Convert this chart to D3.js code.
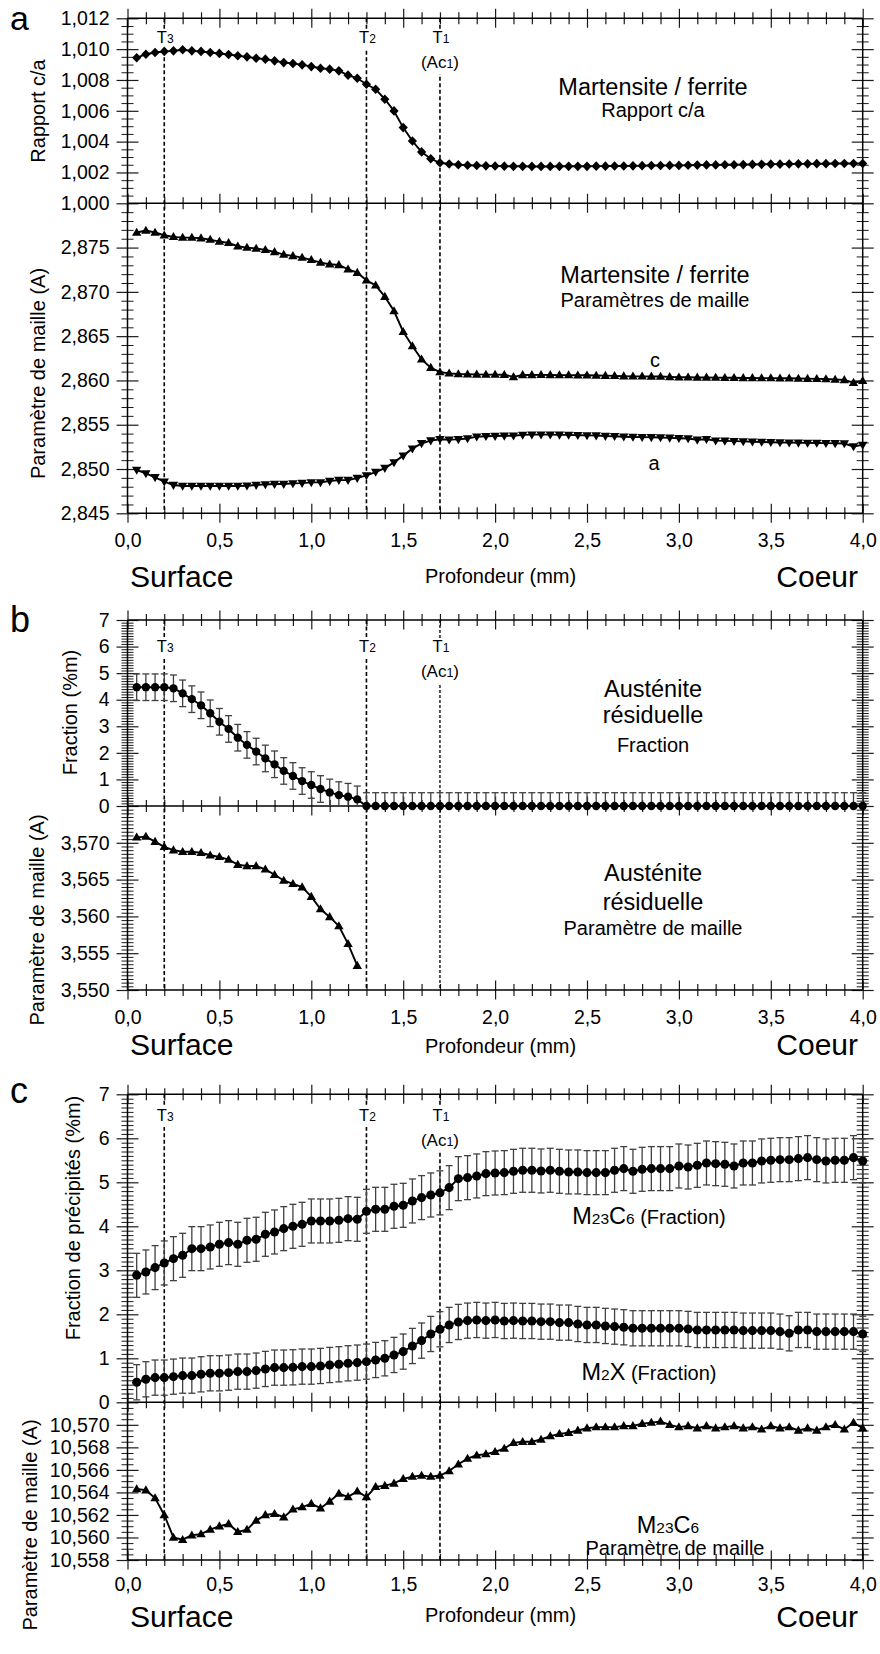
<!DOCTYPE html>
<html><head><meta charset="utf-8">
<script src="https://cdn.jsdelivr.net/npm/d3@7"></script>
<style>
body{margin:0;background:#fff;}
svg{display:block;font-family:"Liberation Sans",Arial,Helvetica,sans-serif;}
</style></head><body>
<svg id="chart" width="880" height="1654"></svg>
<script>
// ---------------- DATA ----------------
const depth = [0.05,0.10,0.15,0.20,0.25,0.30,0.35,0.40,0.45,0.50,
0.55,0.60,0.65,0.70,0.75,0.80,0.85,0.90,0.95,1.00,
1.05,1.10,1.15,1.20,1.25,1.30,1.35,1.40,1.45,1.50,
1.55,1.60,1.65,1.70,1.75,1.80,1.85,1.90,1.95,2.00,
2.05,2.10,2.15,2.20,2.25,2.30,2.35,2.40,2.45,2.50,
2.55,2.60,2.65,2.70,2.75,2.80,2.85,2.90,2.95,3.00,
3.05,3.10,3.15,3.20,3.25,3.30,3.35,3.40,3.45,3.50,
3.55,3.60,3.65,3.70,3.75,3.80,3.85,3.90,3.95,4.00];

const depthAust = [0.05,0.10,0.15,0.20,0.25,0.30,0.35,0.40,0.45,0.50,
0.55,0.60,0.65,0.70,0.75,0.80,0.85,0.90,0.95,1.00,1.05,1.10,1.15,1.20,1.25];

const caRatio = [1.00944,1.00967,1.00978,1.00985,1.00989,1.00996,1.00989,1.00985,1.00978,1.00972,
1.00965,1.00957,1.00950,1.00941,1.00935,1.00924,1.00913,1.00907,1.00898,1.00887,
1.00876,1.00870,1.00859,1.00831,1.00811,1.00772,1.00740,1.00675,1.00599,1.00491,
1.00404,1.00333,1.00289,1.00263,1.00255,1.00250,1.00247,1.00245,1.00243,1.00242,
1.00241,1.00240,1.00240,1.00239,1.00239,1.00239,1.00240,1.00240,1.00240,1.00240,
1.00241,1.00241,1.00242,1.00242,1.00243,1.00244,1.00245,1.00245,1.00246,1.00246,
1.00247,1.00248,1.00249,1.00249,1.00250,1.00250,1.00251,1.00252,1.00253,1.00254,
1.00254,1.00255,1.00256,1.00256,1.00257,1.00257,1.00258,1.00258,1.00258,1.00258];

const latticeC = [2.87670,2.87692,2.87670,2.87639,2.87621,2.87613,2.87613,2.87606,2.87590,2.87568,
2.87553,2.87515,2.87500,2.87489,2.87474,2.87451,2.87421,2.87406,2.87387,2.87361,
2.87330,2.87312,2.87304,2.87255,2.87217,2.87131,2.87074,2.86946,2.86784,2.86550,
2.86388,2.86238,2.86144,2.86095,2.86080,2.86072,2.86070,2.86068,2.86066,2.86066,
2.86064,2.86040,2.86062,2.86062,2.86063,2.86062,2.86060,2.86060,2.86058,2.86058,
2.86056,2.86054,2.86052,2.86048,2.86046,2.86046,2.86045,2.86044,2.86040,2.86036,
2.86036,2.86034,2.86034,2.86032,2.86030,2.86030,2.86028,2.86028,2.86026,2.86026,
2.86024,2.86024,2.86022,2.86020,2.86018,2.86016,2.86010,2.86006,2.85975,2.85995];

const latticeA = [2.84989,2.84951,2.84906,2.84857,2.84819,2.84808,2.84808,2.84808,2.84808,2.84808,
2.84808,2.84808,2.84811,2.84819,2.84826,2.84830,2.84830,2.84838,2.84841,2.84849,
2.84849,2.84864,2.84875,2.84875,2.84898,2.84928,2.84966,2.85011,2.85075,2.85151,
2.85230,2.85290,2.85321,2.85336,2.85332,2.85335,2.85345,2.85365,2.85370,2.85372,
2.85375,2.85376,2.85385,2.85388,2.85388,2.85388,2.85386,2.85385,2.85382,2.85380,
2.85378,2.85372,2.85370,2.85365,2.85362,2.85360,2.85358,2.85356,2.85352,2.85348,
2.85345,2.85330,2.85336,2.85320,2.85318,2.85315,2.85312,2.85308,2.85305,2.85302,
2.85300,2.85298,2.85296,2.85295,2.85294,2.85292,2.85290,2.85288,2.85255,2.85272];

const austFrac = [4.47,4.47,4.47,4.47,4.43,4.24,4.02,3.79,3.49,3.17,
2.90,2.57,2.30,2.05,1.79,1.57,1.32,1.13,0.94,0.79,
0.64,0.51,0.41,0.35,0.25,0,0,0,0,0,
0,0,0,0,0,0,0,0,0,0,
0,0,0,0,0,0,0,0,0,0,
0,0,0,0,0,0,0,0,0,0,
0,0,0,0,0,0,0,0,0,0,
0,0,0,0,0,0,0,0,0,0];
const austFracErr = 0.5;

const austParam = [3.57074,3.57084,3.57015,3.56946,3.56900,3.56878,3.56878,3.56864,3.56831,3.56809,
3.56772,3.56703,3.56685,3.56685,3.56639,3.56566,3.56488,3.56442,3.56397,3.56268,
3.56099,3.55993,3.55869,3.55628,3.55330];

const m23c6Frac = [2.886,2.962,3.061,3.167,3.265,3.341,3.492,3.492,3.530,3.591,
3.629,3.591,3.682,3.705,3.818,3.871,3.947,4.000,4.045,4.121,
4.121,4.121,4.136,4.174,4.159,4.341,4.386,4.386,4.455,4.477,
4.576,4.652,4.712,4.760,4.879,5.083,5.106,5.144,5.197,5.212,
5.220,5.250,5.273,5.273,5.258,5.273,5.250,5.235,5.235,5.220,
5.220,5.220,5.273,5.311,5.250,5.295,5.311,5.311,5.311,5.371,
5.348,5.386,5.439,5.424,5.409,5.371,5.439,5.439,5.485,5.500,
5.515,5.515,5.538,5.561,5.515,5.485,5.500,5.500,5.561,5.485];
const m23c6Err = 0.5;

const m2xFrac = [0.455,0.523,0.561,0.561,0.583,0.606,0.606,0.636,0.659,0.659,
0.674,0.697,0.697,0.720,0.758,0.788,0.788,0.795,0.811,0.811,
0.826,0.848,0.864,0.886,0.902,0.924,0.962,1.000,1.076,1.152,
1.280,1.402,1.553,1.660,1.758,1.826,1.856,1.871,1.856,1.871,
1.848,1.856,1.848,1.848,1.833,1.833,1.811,1.811,1.780,1.758,
1.758,1.735,1.720,1.705,1.682,1.682,1.682,1.682,1.682,1.682,
1.667,1.644,1.644,1.644,1.644,1.644,1.629,1.629,1.629,1.629,
1.606,1.568,1.644,1.644,1.606,1.606,1.606,1.606,1.606,1.553];
const m2xErr = 0.4;

const m23c6Param = [10.5643,10.5642,10.5635,10.5620,10.5600,10.5598,10.5602,10.5603,10.5607,10.5610,
10.5612,10.5605,10.5607,10.5615,10.5620,10.5621,10.5618,10.5625,10.5627,10.5630,
10.5626,10.5632,10.5639,10.5636,10.5641,10.5636,10.5645,10.5646,10.5648,10.5652,
10.5654,10.5655,10.5654,10.5655,10.5659,10.5665,10.5670,10.5673,10.5674,10.5676,
10.5679,10.5684,10.5685,10.5685,10.5687,10.5690,10.5692,10.5693,10.5695,10.5697,
10.5698,10.5698,10.5698,10.5699,10.5699,10.5701,10.5702,10.5703,10.5700,10.5698,
10.5699,10.5697,10.5699,10.5697,10.5698,10.5699,10.5697,10.5698,10.5696,10.5699,
10.5697,10.5698,10.5695,10.5697,10.5695,10.5698,10.5700,10.5696,10.5702,10.5697];

// tick labels
const depthTicks = [0,0.5,1.0,1.5,2.0,2.5,3.0,3.5,4.0];
const caTicks = [1.000,1.002,1.004,1.006,1.008,1.010,1.012];
const latticeTicks = [2.845,2.850,2.855,2.860,2.865,2.870,2.875];
const fracTicks = [0,1,2,3,4,5,6,7];
const austParamTicks = [3.550,3.555,3.560,3.565,3.570];
const m23c6ParamTicks = [10.558,10.560,10.562,10.564,10.566,10.568,10.570];

// transition temperatures
const tDepths = [0.2,1.3,1.7];
const tSubs = ["3","2","1"];

// ---------------- DRAWING ----------------
const svg = d3.select('#chart');
svg.append('rect').attr('width',880).attr('height',1654).attr('fill','#fff');
const X0 = 127.5, X1 = 862.7;
const x = d3.scaleLinear().domain([0,4]).range([X0,X1]);

const yA1 = d3.scaleLinear().domain([1.000,1.012]).range([203.3,18.3]);
const yA2 = d3.scaleLinear().domain([2.845,2.880]).range([513.3,203.3]);
const yB1 = d3.scaleLinear().domain([0,7]).range([806,620]);
const yB2 = d3.scaleLinear().domain([3.550,3.575]).range([990,806]);
const yC1 = d3.scaleLinear().domain([0,7]).range([1402.3,1094.3]);
const yC2 = d3.scaleLinear().domain([10.558,10.572]).range([1560,1402.3]);

const commaFmt = f => v => d3.format(f)(v).replace('.', ',');

function minorVals(domain, step, majors){
  const n = Math.round((domain[1]-domain[0])/step);
  const out = [];
  for (let i=0;i<=n;i++){
    const v = domain[0] + i*step;
    if (!majors.some(m => Math.abs(m-v) < step/10)) out.push(v);
  }
  return out;
}

const axisFns = {left:d3.axisLeft, right:d3.axisRight, top:d3.axisTop, bottom:d3.axisBottom};
const opposite = {left:'right', right:'left', top:'bottom', bottom:'top'};
function crossTicks(orient, pos, scale, values, size, labelFmt, pad, sw){
  const horiz = (orient==='left'||orient==='right');
  const tr = horiz ? `translate(${pos},0)` : `translate(0,${pos})`;
  const g = svg.append('g');
  const a1 = axisFns[orient](scale).tickValues(values).tickSize(size).tickSizeOuter(0)
     .tickPadding(pad||3).tickFormat(labelFmt || (()=> ''));
  const a2 = axisFns[opposite[orient]](scale).tickValues(values).tickSize(size).tickSizeOuter(0)
     .tickFormat(()=> '');
  g.append('g').attr('transform',tr).call(a1);
  g.append('g').attr('transform',tr).call(a2);
  g.selectAll('.domain').remove();
  g.selectAll('line').attr('stroke','#1a1a1a').attr('stroke-width',sw||1.2);
  g.selectAll('text').attr('font-size',19.5).attr('fill','#000')
    .attr('font-family','"Liberation Sans",Arial,Helvetica,sans-serif');
}

const xMinor = minorVals([0,4], 0.1, depthTicks);

const layout = [
  {top:18.3, bottom:513.3, xPad:10.5, layers:[
    {y:yA1, major:caTicks, step:0.0005, fmt:'.3f'},
    {y:yA2, major:latticeTicks, step:0.001, fmt:'.3f'}]},
  {top:620, bottom:990, xPad:10.5, layers:[
    {y:yB1, major:fracTicks, step:0.1, fmt:'d'},
    {y:yB2, major:austParamTicks, step:0.0005, fmt:'.3f'}]},
  {top:1094.3, bottom:1560, xPad:7.5, layers:[
    {y:yC1, major:fracTicks, step:0.1, fmt:'d'},
    {y:yC2, major:m23c6ParamTicks, step:0.0005, fmt:'.3f'}]}
];

layout.forEach(p => {
  const hy = [p.top, p.layers[0].y.range()[0], p.bottom];
  p.layers.forEach(L => {
    const dom = L.y.domain();
    const mv = minorVals(dom, L.step, L.major.concat(dom));
    crossTicks('left', X0, L.y, mv, 6, null, 3, 1);
    crossTicks('left', X0, L.y, L.major, 11, commaFmt(L.fmt), 7);
    crossTicks('right', X1, L.y, mv, 6, null, 3, 1);
    crossTicks('right', X1, L.y, L.major, 11, null);
  });
  hy.forEach((yy,i) => {
    const o = i===2 ? 'bottom' : 'top';
    crossTicks(o, yy, x, xMinor, 6, null);
    crossTicks(o, yy, x, depthTicks, 9.5, i===2 ? commaFmt('.1f') : null, p.xPad);
  });
  const fr = svg.append('g').attr('stroke','#000').attr('stroke-width',1.5);
  hy.forEach(yy => fr.append('line').attr('x1',X0).attr('x2',X1).attr('y1',yy).attr('y2',yy));
  [X0,X1].forEach(xx => fr.append('line').attr('x1',xx).attr('x2',xx).attr('y1',p.top).attr('y2',p.bottom));
});

// transition dashed lines + labels
const tLabelY = [{T:43, Ac:68, top:18.3, bottom:513.3},
                 {T:652, Ac:677, top:620, bottom:990},
                 {T:1121, Ac:1146, top:1094.3, bottom:1560}];
tLabelY.forEach((P,pi) => {
  tDepths.forEach((d,i) => {
    const fine = (pi===1 && i===2);
    svg.append('line').attr('x1',x(d)).attr('x2',x(d)).attr('y1',P.top).attr('y2',P.bottom)
      .attr('stroke','#000').attr('stroke-width', fine?1.3:1.6)
      .attr('stroke-dasharray', fine?'3,2':'4,2.5');
  });
  tDepths.forEach((d,i) => {
    const xc = x(d);
    const hasAc = (i===2);
    svg.append('rect').attr('x',xc-11).attr('y',P.T-14).attr('width',23)
      .attr('height', hasAc ? (P.Ac+6)-(P.T-14) : 20).attr('fill','#fff');
    if (hasAc) svg.append('rect').attr('x',xc-24).attr('y',P.Ac-14).attr('width',48).attr('height',20).attr('fill','#fff');
    const t = svg.append('text').attr('x',xc+1).attr('y',P.T).attr('text-anchor','middle');
    t.append('tspan').attr('font-size',16.5).text('T');
    t.append('tspan').attr('font-size',12).text(tSubs[i]);
    if (hasAc){
      const a = svg.append('text').attr('x',xc).attr('y',P.Ac).attr('text-anchor','middle');
      a.append('tspan').attr('font-size',17).text('(Ac');
      a.append('tspan').attr('font-size',12.5).text('1');
      a.append('tspan').attr('font-size',17).text(')');
    }
  });
});

// symbols
const symDiamond = {draw(ctx,size){ const r=Math.sqrt(size)/2; ctx.moveTo(0,-r*1.05); ctx.lineTo(r,0); ctx.lineTo(0,r*1.05); ctx.lineTo(-r,0); ctx.closePath(); }};
const symTriUp = {draw(ctx,size){ const s=Math.sqrt(size); const h=s*0.86; ctx.moveTo(0,-h*0.6); ctx.lineTo(s/2,h*0.4); ctx.lineTo(-s/2,h*0.4); ctx.closePath(); }};
const symTriDown = {draw(ctx,size){ const s=Math.sqrt(size); const h=s*0.86; ctx.moveTo(0,h*0.6); ctx.lineTo(s/2,-h*0.4); ctx.lineTo(-s/2,-h*0.4); ctx.closePath(); }};

function drawSeries(xs, ys, yS, type, size){
  const pts = xs.map((d,i)=>[d, ys[i]]);
  svg.append('path').datum(pts)
    .attr('d', d3.line().x(d=>x(d[0])).y(d=>yS(d[1])))
    .attr('fill','none').attr('stroke','#000').attr('stroke-width',1.9);
  svg.append('g').selectAll('path').data(pts).join('path')
    .attr('transform', d=>`translate(${x(d[0])},${yS(d[1])})`)
    .attr('d', d3.symbol().type(type).size(size)).attr('fill','#000');
}
function drawErr(xs, ys, err, yS){
  const dmin = yS.domain()[0];
  const g = svg.append('g').attr('stroke','#404040').attr('stroke-width',1.3);
  xs.forEach((d,i) => {
    const xc = x(d);
    const hi = ys[i]+err, lo = Math.max(ys[i]-err, dmin);
    g.append('line').attr('x1',xc).attr('x2',xc).attr('y1',yS(hi)).attr('y2',yS(lo));
    g.append('line').attr('x1',xc-3.5).attr('x2',xc+3.5).attr('y1',yS(hi)).attr('y2',yS(hi));
    if (ys[i]-err >= dmin)
      g.append('line').attr('x1',xc-3.5).attr('x2',xc+3.5).attr('y1',yS(lo)).attr('y2',yS(lo));
  });
}

// Panel a
drawSeries(depth, caRatio, yA1, symDiamond, 85);
drawSeries(depth, latticeC, yA2, symTriUp, 88);
drawSeries(depth, latticeA, yA2, symTriDown, 88);
// Panel b
drawErr(depth, austFrac, austFracErr, yB1);
drawSeries(depth, austFrac, yB1, d3.symbolCircle, 54);
drawSeries(depthAust, austParam, yB2, symTriUp, 88);
// Panel c
drawErr(depth, m23c6Frac, m23c6Err, yC1);
drawErr(depth, m2xFrac, m2xErr, yC1);
drawSeries(depth, m23c6Frac, yC1, d3.symbolCircle, 64);
drawSeries(depth, m2xFrac, yC1, d3.symbolCircle, 64);
drawSeries(depth, m23c6Param, yC2, symTriUp, 88);

// ---------------- TEXT ----------------
function txt(xp, yp, s, size, anchor){
  return svg.append('text').attr('x',xp).attr('y',yp).attr('font-size',size)
    .attr('text-anchor',anchor||'middle').attr('fill','#000').text(s);
}
function rich(xp, yp, parts){
  const t = svg.append('text').attr('x',xp).attr('y',yp).attr('text-anchor','middle').attr('fill','#000');
  parts.forEach(p => t.append('tspan').attr('font-size',p[1]).text(p[0]));
  return t;
}
function yLabel(s, cx, cy){
  svg.append('text').attr('transform',`translate(${cx},${cy}) rotate(-90)`)
    .attr('text-anchor','middle').attr('dy','0.35em').attr('font-size',20).attr('fill','#000').text(s);
}

// panel letters
txt(10, 30, 'a', 34, 'start');
txt(10, 632, 'b', 36, 'start');
txt(10, 1103, 'c', 36, 'start');

// y axis titles
yLabel('Rapport c/a', 37.5, 111);
yLabel('Paramètre de maille (A)', 37.5, 373.5);
yLabel('Fraction (%m)', 70, 712.5);
yLabel('Paramètre de maille (A)', 36.5, 920);
yLabel('Fraction de précipités (%m)', 72.5, 1218);
yLabel('Paramètre de maille (A)', 30, 1525);

// x axis titles
[{yb:583, ys:587}, {yb:1053, ys:1055}, {yb:1622, ys:1627}].forEach(r => {
  txt(425, r.yb, 'Profondeur (mm)', 20, 'start');
  txt(130, r.ys, 'Surface', 30, 'start');
  txt(858, r.ys, 'Coeur', 30, 'end');
});

// in-plot titles
txt(653, 95, 'Martensite / ferrite', 23.5);
txt(653, 116.5, 'Rapport c/a', 20);
txt(655, 283.3, 'Martensite / ferrite', 23.5);
txt(655, 306.7, 'Paramètres de maille', 20);
txt(655, 366.7, 'c', 20);
txt(654, 470, 'a', 20);

txt(653, 696.5, 'Austénite', 23.5);
txt(653, 723.3, 'résiduelle', 23.5);
txt(653, 751.7, 'Fraction', 20);
txt(653, 880.7, 'Austénite', 23.5);
txt(653, 910, 'résiduelle', 23.5);
txt(653, 935, 'Paramètre de maille', 20);

rich(649, 1223.5, [['M',23.5],['23',15.5],['C',23.5],['6',15.5],[' (Fraction)',20]]);
rich(649, 1379.5, [['M',23.5],['2',15.5],['X',23.5],[' (Fraction)',20]]);
rich(668, 1533, [['M',23.5],['23',15.5],['C',23.5],['6',15.5]]);
txt(675, 1555, 'Paramètre de maille', 20);
</script>
</body></html>
